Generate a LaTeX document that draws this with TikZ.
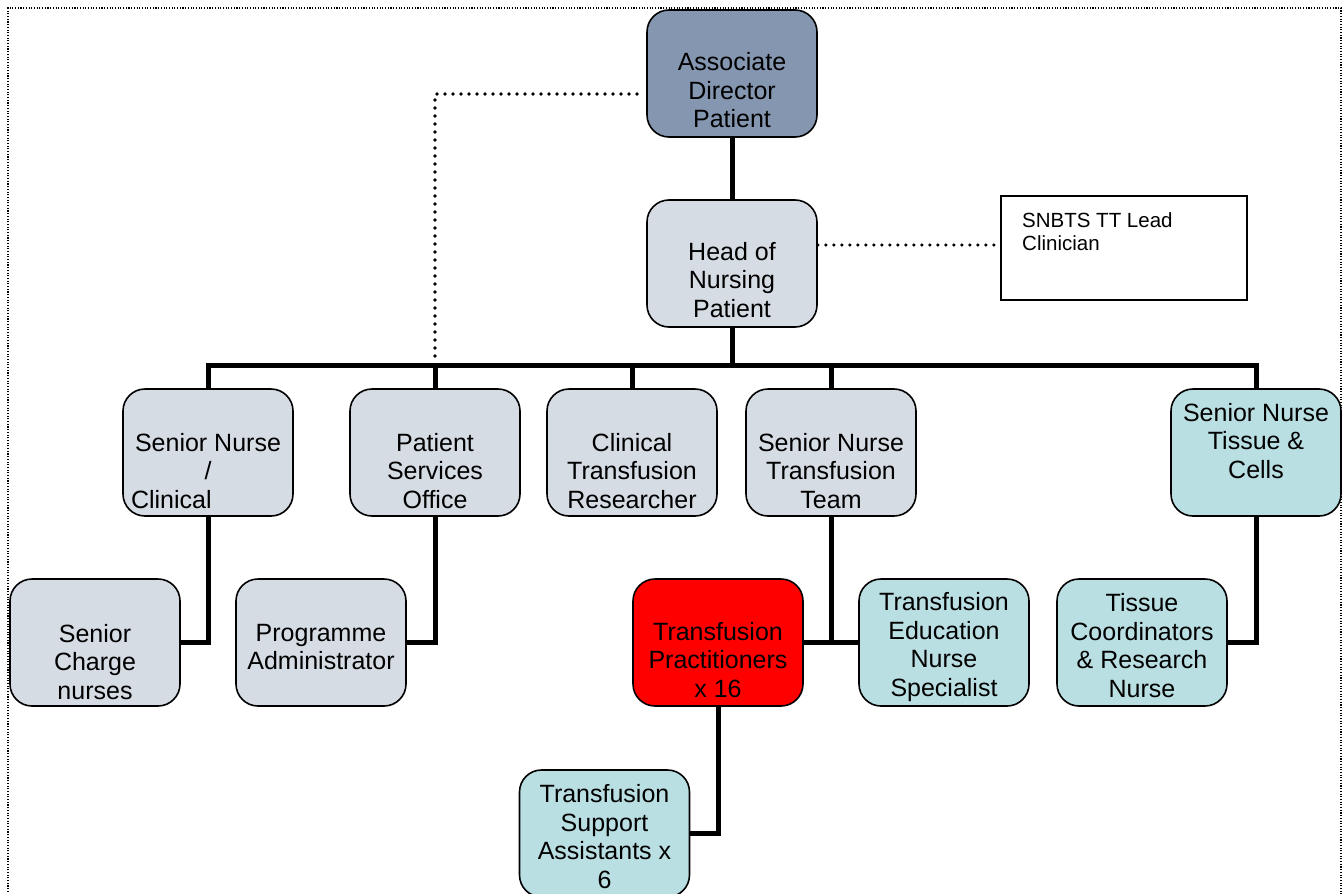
\documentclass[tikz,border=0pt]{standalone}
\usepackage{fontspec}
\setmainfont{Liberation Sans}
\definecolor{adblue}{HTML}{8496B0}
\definecolor{lgray}{HTML}{D6DCE4}
\definecolor{lteal}{HTML}{B9DFE3}
\tikzset{
  box/.style={draw=black, line width=1.6pt, rounded corners=22pt,
    minimum width=170pt, minimum height=127pt, inner sep=0pt},
  txt/.style={align=center, inner sep=0pt, text=black,
    font=\fontsize{25}{28.5}\selectfont},
  conn/.style={line width=5pt, draw=black},
  dotline/.style={line width=3.6pt, dash pattern=on 0pt off 8pt, line cap=round},
  framedots/.style={line width=1.1pt, dash pattern=on 1.1pt off 1.6pt}
}
\begin{document}
\begin{tikzpicture}[x=1pt,y=-1pt]
\useasboundingbox (0,0) rectangle (1344,894);
\clip (0,0) rectangle (1344,894);
\fill[white] (0,0) rectangle (1344,894);
% outer dotted frame
\draw[framedots] (8,900) -- (8,8) -- (1341,8) -- (1341,900);

% boxes
\node[box, fill=adblue] (ad) at (732,73.5) {};
\node[box, fill=lgray] (hon) at (732,263.5) {};
\node[draw=black, line width=1.3pt, minimum width=246pt, minimum height=104pt, inner sep=0pt] (snbts) at (1124,248) {};

\node[box, fill=lgray] (snc) at (208,452.5) {};
\node[box, fill=lgray] (pso) at (435,452.5) {};
\node[box, fill=lgray] (ctr) at (632,452.5) {};
\node[box, fill=lgray] (sntt) at (831,452.5) {};
\node[box, fill=lteal] (stc) at (1256,452.5) {};

\node[box, fill=lgray] (scn) at (95,642.5) {};
\node[box, fill=lgray] (pa) at (321,642.5) {};
\node[box, fill=red] (tp) at (718,642.5) {};
\node[box, fill=lteal] (tens) at (944,642.5) {};
\node[box, fill=lteal] (tcr) at (1142,642.5) {};
\node[box, fill=lteal] (tsa) at (604.5,833.5) {};

% texts
\node[txt] (adT) at (732,93.75) {\strut Associate\\\strut Director\\\strut Patient};
\node[txt] (honT) at (732,283) {\strut Head of\\\strut Nursing\\\strut Patient};
\node[anchor=north west, align=left, inner sep=0pt, font=\fontsize{20.5}{23}\selectfont] (snbtsT) at (1022,211) {\strut SNBTS TT Lead\\\strut Clinician};
\node[txt] (sncT) at (208,474) {\strut Senior Nurse\\\strut /\\\strut\makebox[154pt][l]{Clinical}};
\node[txt] (psoT) at (435,474) {\strut Patient\\\strut Services\\\strut Office};
\node[txt] (ctrT) at (632,474) {\strut Clinical\\\strut Transfusion\\\strut Researcher};
\node[txt] (snttT) at (831,474) {\strut Senior Nurse\\\strut Transfusion\\\strut Team};
\node[txt] (stcT) at (1256,444) {\strut Senior Nurse\\\strut Tissue \&\\\strut Cells};
\node[txt] (scnT) at (95,665) {\strut Senior\\\strut Charge\\\strut nurses};
\node[txt] (paT) at (321,650) {\strut Programme\\\strut Administrator};
\node[txt] (tpT) at (718,663) {\strut Transfusion\\\strut Practitioners\\\strut x 16};
\node[txt] (tensT) at (944,648) {\strut Transfusion\\\strut Education\\\strut Nurse\\\strut Specialist};
\node[txt] (tcrT) at (1142,649) {\strut Tissue\\\strut Coordinators\\\strut \& Research\\\strut Nurse};
\node[txt] (tsaT) at (604.5,840) {\strut Transfusion\\\strut Support\\\strut Assistants x\\\strut 6};

% solid connectors
\coordinate (busL) at (208,365);
\coordinate (busR) at (1256,365);
\draw[conn] (ad.south) -- (hon.north);
\draw[conn] (hon.south) -- (hon.south |- busL);
\draw[conn] (snc.north) -- (busL) -- (busR) -- (stc.north);
\draw[conn] (pso.north) -- (pso.north |- busL);
\draw[conn] (ctr.north) -- (ctr.north |- busL);
\draw[conn] (sntt.north) -- (sntt.north |- busL);
\draw[conn] (snc.south) |- (scn.east);
\draw[conn] (pso.south) |- (pa.east);
\draw[conn] (sntt.south) -- (sntt.south |- tp.east);
\draw[conn] (tp.east) -- (tens.west);
\draw[conn] (stc.south) |- (tcr.east);
\draw[conn] (tp.south) |- (tsa.east);

% dotted connectors
\coordinate (dA) at (637,94);
\coordinate (dB) at (435,360);
\draw[dotline] (dA) -| (dB);
\coordinate (dY) at (0,245);
\draw[dotline] (hon.east |- dY) -- (snbts.west |- dY);
\end{tikzpicture}
\end{document}
